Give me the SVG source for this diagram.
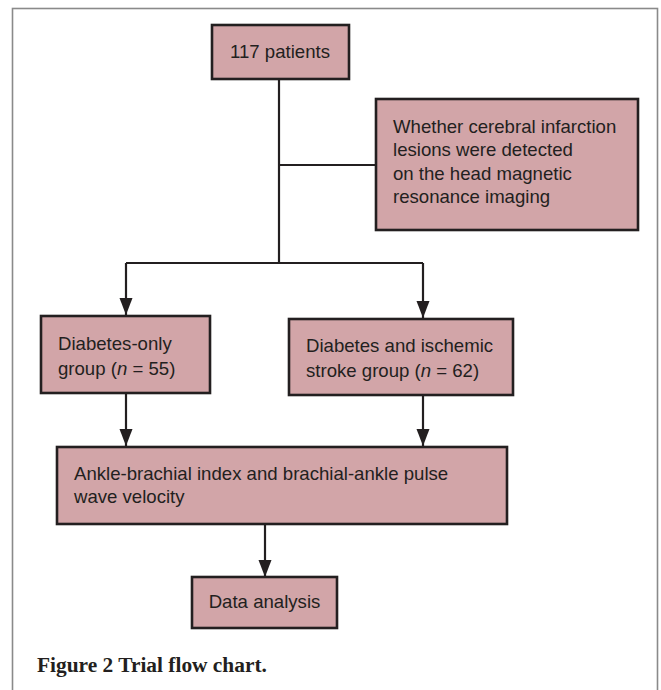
<svg xmlns="http://www.w3.org/2000/svg" width="661" height="690" viewBox="0 0 661 690">
<style>
.box{fill:#d2a5a8;stroke:#231f20;stroke-width:2.6}
.t{font-family:"Liberation Sans",Arial,sans-serif;font-size:18.6px;fill:#231f20}
.ln{fill:none;stroke:#231f20;stroke-width:2.2}
.cap{font-family:"Liberation Serif","Times New Roman",serif;font-size:21.4px;font-weight:bold;fill:#231f20}
</style>
<defs>
<marker id="ah" markerUnits="userSpaceOnUse" markerWidth="18" markerHeight="14" refX="17" refY="6.5" orient="auto">
<path d="M0,0 L17,6.5 L0,13 z" fill="#231f20"/>
</marker>
</defs>
<rect x="12.5" y="8.5" width="645" height="700" fill="#fff" stroke="#8a8a8a" stroke-width="1.6"/>
<g id="connectors">
<path class="ln" d="M279,79 V263"/>
<path class="ln" d="M279,165 H376"/>
<path class="ln" d="M126,263 H423"/>
<path class="ln" d="M126,263 V315" marker-end="url(#ah)"/>
<path class="ln" d="M423,263 V318" marker-end="url(#ah)"/>
<path class="ln" d="M126,393 V446" marker-end="url(#ah)"/>
<path class="ln" d="M423,395 V446" marker-end="url(#ah)"/>
<path class="ln" d="M265,524 V577" marker-end="url(#ah)"/>
</g>
<g id="n1">
<rect class="box" x="212" y="25" width="137" height="54"/>
<text class="t" x="280" y="58" text-anchor="middle">117 patients</text>
</g>
<g id="n2">
<rect class="box" x="376" y="99" width="262" height="131"/>
<text class="t" x="393" y="133">Whether cerebral infarction</text>
<text class="t" x="393" y="156">lesions were detected</text>
<text class="t" x="393" y="180">on the head magnetic</text>
<text class="t" x="393" y="203">resonance imaging</text>
</g>
<g id="n3">
<rect class="box" x="41" y="316" width="169" height="77"/>
<text class="t" x="58" y="350">Diabetes-only</text>
<text class="t" x="58" y="375">group (<tspan font-style="italic">n</tspan> = 55)</text>
</g>
<g id="n4">
<rect class="box" x="289" y="319" width="224" height="76"/>
<text class="t" x="306" y="352">Diabetes and ischemic</text>
<text class="t" x="306" y="377">stroke group (<tspan font-style="italic">n</tspan> = 62)</text>
</g>
<g id="n5">
<rect class="box" x="57" y="447" width="450" height="77"/>
<text class="t" x="74" y="480">Ankle-brachial index and brachial-ankle pulse</text>
<text class="t" x="74" y="503">wave velocity</text>
</g>
<g id="n6">
<rect class="box" x="192" y="577" width="145" height="51"/>
<text class="t" x="264.5" y="608" text-anchor="middle">Data analysis</text>
</g>
<text class="cap" x="37" y="672">Figure 2 Trial flow chart.</text>
</svg>
